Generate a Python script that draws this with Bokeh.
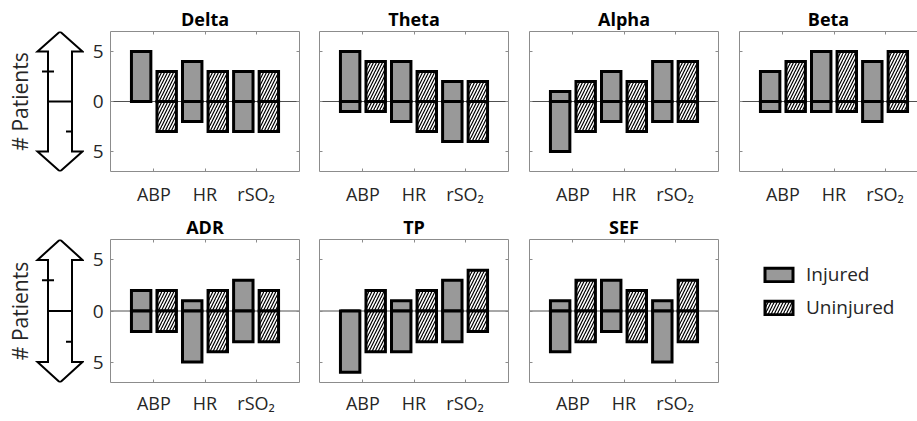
import numpy as np
from bokeh.plotting import figure
from bokeh.models import (ColumnDataSource, FixedTicker, LinearAxis, Span,
                          Range1d, Legend, LegendItem)
from bokeh.layouts import row, column
from bokeh.embed import file_html
from bokeh.resources import INLINE
from bokeh.core.properties import value

# ---------------- data ----------------
signals = ["ABP", "HR", "rSO\u2082"]
y_tick_labels = ["5", "0", "5"]
group_labels = ["Injured", "Uninjured"]

# number of patients with an increase (up) / decrease (down), per signal
delta_inj_up = [5, 4, 3]
delta_inj_down = [0, 2, 3]
delta_uninj_up = [3, 3, 3]
delta_uninj_down = [3, 3, 3]

theta_inj_up = [5, 4, 2]
theta_inj_down = [1, 2, 4]
theta_uninj_up = [4, 3, 2]
theta_uninj_down = [1, 3, 4]

alpha_inj_up = [1, 3, 4]
alpha_inj_down = [5, 2, 2]
alpha_uninj_up = [2, 2, 4]
alpha_uninj_down = [3, 3, 2]

beta_inj_up = [3, 5, 4]
beta_inj_down = [1, 1, 2]
beta_uninj_up = [4, 5, 5]
beta_uninj_down = [1, 1, 1]

adr_inj_up = [2, 1, 3]
adr_inj_down = [2, 5, 3]
adr_uninj_up = [2, 2, 2]
adr_uninj_down = [2, 4, 3]

tp_inj_up = [0, 1, 3]
tp_inj_down = [6, 4, 3]
tp_uninj_up = [2, 2, 4]
tp_uninj_down = [4, 3, 2]

sef_inj_up = [1, 3, 1]
sef_inj_down = [4, 2, 5]
sef_uninj_up = [3, 2, 3]
sef_uninj_down = [3, 3, 3]

# ---------------- style ----------------
FONT = "Open Sans"
TXT = "#262626"
FRAME = "#8c8c8c"
GRAY = "#999999"
BAR_W = 0.38
OFF = 0.25
X0, X1 = 0.15, 3.85
PX_PER_UNIT = 189 / (X1 - X0)

ROW_H = [208, 213]
BOT = [35, 39]
TOP = 31
HATCH = dict(hatch_pattern="/", hatch_color="black", hatch_scale=6,
             hatch_weight=1.2)


def style_axis(ax, labels, size):
    ax.axis_line_color = FRAME
    ax.major_tick_line_color = FRAME
    ax.minor_tick_line_color = None
    ax.major_tick_in = 3
    ax.major_tick_out = 0
    if labels:
        ax.major_label_text_font = FONT
        ax.major_label_text_color = TXT
        ax.major_label_text_font_size = size
    else:
        ax.major_label_text_font_size = "1px"
        ax.major_label_text_color = None
        ax.major_label_standoff = 0


def panel(title, inj_up, inj_down, uninj_up, uninj_down, r, first, last):
    pos = np.arange(1, len(signals) + 1)
    width = 225 if first else (188 if last else 210)
    left_b = 26 if first else 10
    right_b = 0 if last else width - left_b - 189
    xend = X0 + (width - left_b - right_b) / PX_PER_UNIT
    p = figure(width=width, height=ROW_H[r], x_range=Range1d(X0, xend),
               y_range=Range1d(-7, 7), output_backend="svg",
               toolbar_location=None, min_border_left=left_b,
               min_border_right=right_b, min_border_top=TOP,
               min_border_bottom=BOT[r], x_axis_location=None,
               y_axis_location=None, title=title)
    p.outline_line_color = None
    p.grid.visible = False
    p.title.align = "center"
    p.title.text_font = FONT
    p.title.text_font_size = "18px"
    p.title.text_font_style = "bold"
    p.title.text_color = "black"
    p.title.standoff = 1
    p.title.offset = 0

    xt = FixedTicker(ticks=list(pos))
    yt = FixedTicker(ticks=[-5, 0, 5])
    bx = LinearAxis(ticker=xt, major_label_overrides={int(k): s for k, s in zip(pos, signals)})
    style_axis(bx, True, "18px")
    bx.major_label_standoff = 10 if r == 0 else 8
    p.add_layout(bx, "below")
    tx = LinearAxis(ticker=xt)
    style_axis(tx, False, None)
    p.add_layout(tx, "above")
    ly = LinearAxis(ticker=yt, major_label_overrides={-5: y_tick_labels[0], 0: y_tick_labels[1], 5: y_tick_labels[2]})
    style_axis(ly, first, "19px")
    if first:
        ly.major_label_standoff = 7
    p.add_layout(ly, "left")
    if not last:
        ry = LinearAxis(ticker=yt)
        style_axis(ry, False, None)
        p.add_layout(ry, "right")

    p.add_layout(Span(location=0, dimension="width", line_color="#505050",
                      line_width=1, level="underlay"))

    zeros = np.zeros(len(pos))
    src_i = ColumnDataSource(dict(l=pos - OFF - BAR_W / 2, r=pos - OFF + BAR_W / 2,
                                  up=np.array(inj_up), dn=-np.array(inj_down), z=zeros))
    src_u = ColumnDataSource(dict(l=pos + OFF - BAR_W / 2, r=pos + OFF + BAR_W / 2,
                                  up=np.array(uninj_up), dn=-np.array(uninj_down), z=zeros))
    kw_i = dict(fill_color=GRAY, line_color="black", line_width=3, line_join="miter")
    kw_u = dict(fill_color="white", line_color="black", line_width=3,
                line_join="miter", **HATCH)
    p.quad(left="l", right="r", bottom="z", top="up", source=src_i, **kw_i)
    p.quad(left="l", right="r", bottom="dn", top="z", source=src_i, **kw_i)
    p.quad(left="l", right="r", bottom="z", top="up", source=src_u, **kw_u)
    p.quad(left="l", right="r", bottom="dn", top="z", source=src_u, **kw_u)
    return p


def arrow_fig(r):
    p = figure(width=84, height=ROW_H[r], x_range=Range1d(0, 84),
               y_range=Range1d(-7, 7), output_backend="svg",
               toolbar_location=None, min_border_left=0, min_border_right=0,
               min_border_top=TOP, min_border_bottom=BOT[r],
               x_axis_location=None, y_axis_location=None)
    p.outline_line_color = None
    p.grid.visible = False
    c, hw, sw = 59.5, 22.5, 12
    xs = [c, c + hw, c + sw, c + sw, c + hw, c, c - hw, c - sw, c - sw, c - hw]
    ys = [7, 5, 5, -5, -5, -7, -5, -5, 5, 5]
    p.patch(xs, ys, fill_color="white", line_color="black", line_width=2,
            line_join="miter")
    p.segment(x0=[c - sw, c - sw - 6, c + sw - 6, c - sw], y0=[0, 3, -3, 2.55],
              x1=[c + sw, c - sw + 6, c + sw, c - sw], y1=[0, 3, -3, 3.45],
              line_color="black", line_width=2)
    p.text(x=[19.5], y=[0], text=["# Patients"], angle=np.pi / 2,
           text_align="center", text_baseline="middle",
           text_font=value(FONT), text_font_size="21px", text_color=TXT)
    return p


def legend_fig():
    p = figure(width=188, height=ROW_H[1], x_range=Range1d(0, 1),
               y_range=Range1d(0, 1), output_backend="svg",
               toolbar_location=None, min_border_left=10, min_border_right=0,
               min_border_top=TOP, min_border_bottom=BOT[1],
               x_axis_location=None, y_axis_location=None)
    p.outline_line_color = None
    p.grid.visible = False
    r1 = p.quad(left=[5], right=[6], bottom=[5], top=[6], fill_color=GRAY,
                line_color="black", line_width=3, line_join="miter")
    r2 = p.quad(left=[5], right=[6], bottom=[5], top=[6], fill_color="white",
                line_color="black", line_width=3, line_join="miter", **HATCH)
    leg = Legend(items=[LegendItem(label=group_labels[0], renderers=[r1]),
                        LegendItem(label=group_labels[1], renderers=[r2])],
                 location="top_left", margin=22, padding=0,
                 border_line_color=None, background_fill_alpha=0,
                 glyph_width=35, glyph_height=17, label_height=17,
                 label_standoff=10, spacing=7,
                 label_text_font=FONT, label_text_font_size="19px",
                 label_text_color=TXT)
    p.add_layout(leg)
    return p


row1 = row(arrow_fig(0),
           panel("Delta", delta_inj_up, delta_inj_down, delta_uninj_up, delta_uninj_down, 0, True, False),
           panel("Theta", theta_inj_up, theta_inj_down, theta_uninj_up, theta_uninj_down, 0, False, False),
           panel("Alpha", alpha_inj_up, alpha_inj_down, alpha_uninj_up, alpha_uninj_down, 0, False, False),
           panel("Beta", beta_inj_up, beta_inj_down, beta_uninj_up, beta_uninj_down, 0, False, True))
row2 = row(arrow_fig(1),
           panel("ADR", adr_inj_up, adr_inj_down, adr_uninj_up, adr_uninj_down, 1, True, False),
           panel("TP", tp_inj_up, tp_inj_down, tp_uninj_up, tp_uninj_down, 1, False, False),
           panel("SEF", sef_inj_up, sef_inj_down, sef_uninj_up, sef_uninj_down, 1, False, False),
           legend_fig())
layout = column(row1, row2)

open("out.html", "w").write(file_html(layout, INLINE))
